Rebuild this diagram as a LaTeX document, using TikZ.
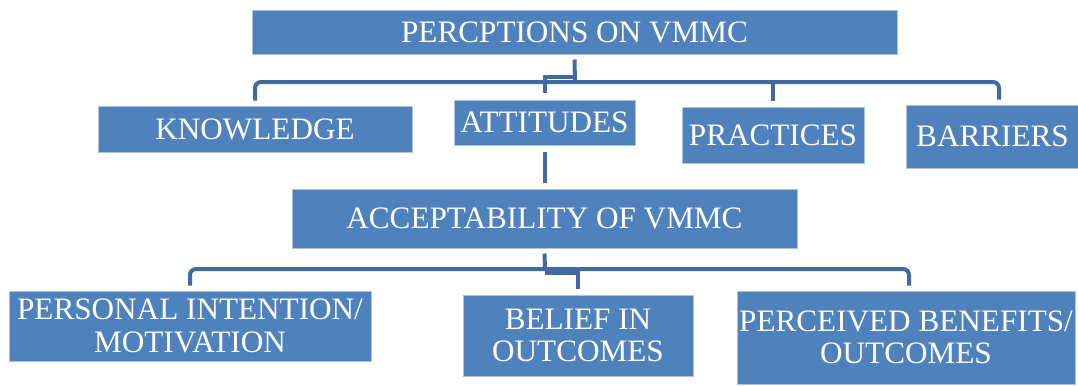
\documentclass[tikz,border=0pt]{standalone}
\usepackage{fontspec}
\setmainfont{Liberation Serif}
\usepackage{tikz}
\usetikzlibrary{positioning,calc}
\definecolor{boxblue}{RGB}{79,129,189}
\definecolor{boxedge}{RGB}{170,196,226}
\definecolor{linkblue}{RGB}{66,106,162}

\tikzset{
  theme/.style={fill=boxblue,draw=boxedge,line width=0.5pt,text=white,
    inner sep=0pt,align=center,font=\fontsize{15.6}{16.2}\selectfont},
  link/.style={linkblue,line width=2pt},
}

\begin{document}
\begin{tikzpicture}[x=0.5pt,y=-0.5pt]
  \useasboundingbox (0,0) rectangle (1078,386);
  % top level
  \node[theme,minimum width=322.5pt,minimum height=22pt] (perc) at (574.5,32) {PERCPTIONS ON VMMC};
  % second row
  \node[theme,minimum width=157pt,minimum height=23pt] (know) at (255,129) {KNOWLEDGE};
  \node[theme,minimum width=90.5pt,minimum height=22.5pt] (att) at (544.5,122.5) {ATTITUDES};
  \node[theme,minimum width=91pt,minimum height=28pt] (prac) at (773,135) {PRACTICES};
  \node[theme,minimum width=86pt,minimum height=31.5pt] (barr) at (992.5,136.5) {BARRIERS};
  % acceptability
  \node[theme,minimum width=252.5pt,minimum height=29.5pt] (acc) at (544.5,218.5) {ACCEPTABILITY OF VMMC};
  % bottom row
  \node[theme,minimum width=181pt,minimum height=35pt] (pers) at (190,326) {PERSONAL INTENTION/\\MOTIVATION};
  \node[theme,minimum width=115pt,minimum height=40.5pt] (bel) at (578,335.5) {BELIEF IN\\OUTCOMES};
  \node[theme,minimum width=169pt,minimum height=46.5pt] (ben) at (906,337.5) {PERCEIVED BENEFITS/\\OUTCOMES};

  % connectors, upper tree
  \coordinate (hub1) at (575,82);
  \coordinate (step1) at (575,77);
  \draw[link] ([yshift=-2.5pt]perc.south) -- (hub1);
  \draw[link,rounded corners=3pt] ([yshift=2.5pt]know.north) |- (hub1)
       -| ([xshift=3.25pt,yshift=2.5pt]barr.north);
  \draw[link] ([yshift=3pt]prac.north) -- (prac.north |- hub1);
  \draw[link] ([yshift=3.5pt]att.north) |- (step1);
  \draw[link] ([yshift=-3pt]att.south) -- ([yshift=3pt]att.south |- acc.north);

  % connectors, lower tree
  \coordinate (hub2) at (545,269);
  \coordinate (step2) at (545,273);
  \draw[link] ([yshift=-2.5pt]acc.south) -- (hub2);
  \draw[link,rounded corners=3pt] ([yshift=2.5pt]pers.north) |- (hub2)
       -| ([xshift=1.5pt,yshift=2.5pt]ben.north);
  \draw[link] (step2) -| ([yshift=3pt]bel.north);
\end{tikzpicture}
\end{document}
